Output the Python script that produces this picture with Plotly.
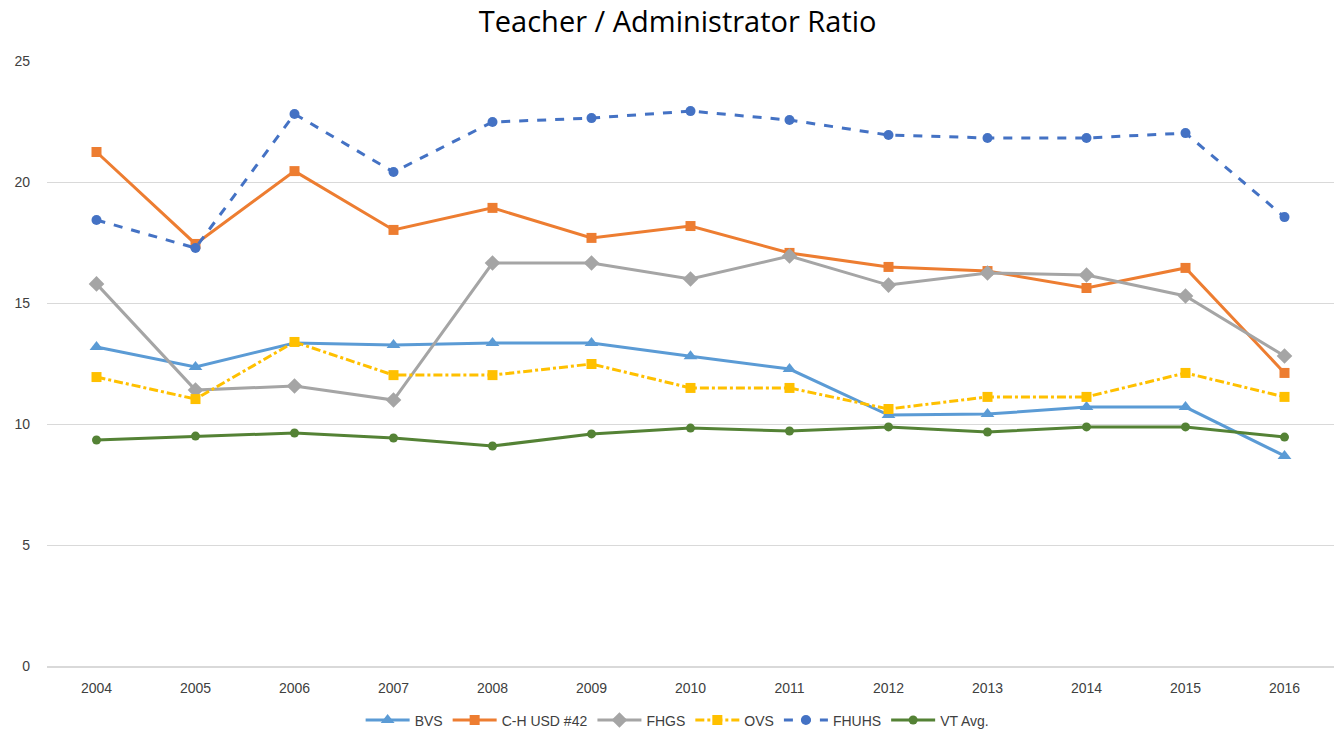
import plotly.graph_objects as go

years = ["2004", "2005", "2006", "2007", "2008", "2009", "2010", "2011", "2012", "2013", "2014", "2015", "2016"]

bvs = [13.18, 12.36, 13.35, 13.26, 13.35, 13.35, 12.80, 12.27, 10.37, 10.41, 10.70, 10.70, 8.68]
ch_usd42 = [21.24, 17.44, 20.45, 18.02, 18.93, 17.69, 18.18, 17.07, 16.49, 16.32, 15.62, 16.45, 12.11]
fhgs = [15.79, 11.40, 11.57, 10.99, 16.65, 16.65, 15.99, 16.94, 15.74, 16.24, 16.16, 15.29, 12.81]
ovs = [11.94, 11.03, 13.39, 12.02, 12.02, 12.48, 11.49, 11.49, 10.62, 11.12, 11.12, 12.11, 11.12]
fhuhs = [18.43, 17.27, 22.81, 20.41, 22.48, 22.64, 22.93, 22.56, 21.94, 21.82, 21.82, 22.02, 18.55]
vt_avg = [9.34, 9.50, 9.63, 9.42, 9.09, 9.59, 9.83, 9.71, 9.88, 9.67, 9.88, 9.88, 9.46]

y_ticks = [0, 5, 10, 15, 20, 25]

series = [
    ("BVS", bvs, "#5B9BD5", "solid", "triangle-up", 12),
    ("C-H USD #42", ch_usd42, "#ED7D31", "solid", "square", 10),
    ("FHGS", fhgs, "#A5A5A5", "solid", "diamond", 12),
    ("OVS", ovs, "#FFC000", "dashdot", "square", 10),
    ("FHUHS", fhuhs, "#4472C4", "dash", "circle", 10),
    ("VT Avg.", vt_avg, "#548235", "solid", "circle", 9),
]

fig = go.Figure()
for name, vals, color, dash, sym, size in series:
    fig.add_trace(go.Scatter(
        x=years, y=vals, name=name, mode="lines+markers",
        line=dict(color=color, width=3, dash=dash),
        marker=dict(symbol=sym, size=size, color=color),
    ))

fig.update_layout(
    width=1334, height=730,
    paper_bgcolor="white", plot_bgcolor="white",
    margin=dict(l=47, r=0, t=61, b=64, autoexpand=False),
    title=dict(text="Teacher / Administrator Ratio", x=0.508, xanchor="center",
               y=0.970, yanchor="middle", automargin=False,
               font=dict(family="Open Sans, Liberation Sans, sans-serif", size=29, color="#000000")),
    font=dict(family="Liberation Sans, Arial, sans-serif", size=14, color="#595959"),
    xaxis=dict(type="category", range=[-0.5, 12.5], showgrid=False, automargin=False,
               showline=True, linecolor="#D9D9D9", linewidth=1.5,
               ticks="", tickfont=dict(size=14, color="#404040"), ticklabelstandoff=8,
               fixedrange=True),
    yaxis=dict(range=[0, 25], tickvals=y_ticks, showgrid=True, gridcolor="#D9D9D9",
               gridwidth=1, zeroline=False, showline=False, ticks="", automargin=False,
               tickfont=dict(size=14, color="#404040"), ticklabelstandoff=16),
    legend=dict(orientation="h", x=0.49, xanchor="center", y=-0.09, yanchor="middle",
                font=dict(size=14, color="#404040"), tracegroupgap=0, itemwidth=44),
    showlegend=True,
)

fig.write_html("out.html", config={"displayModeBar": False},
               post_script="document.body.style.margin='0';document.body.style.overflow='hidden';")
